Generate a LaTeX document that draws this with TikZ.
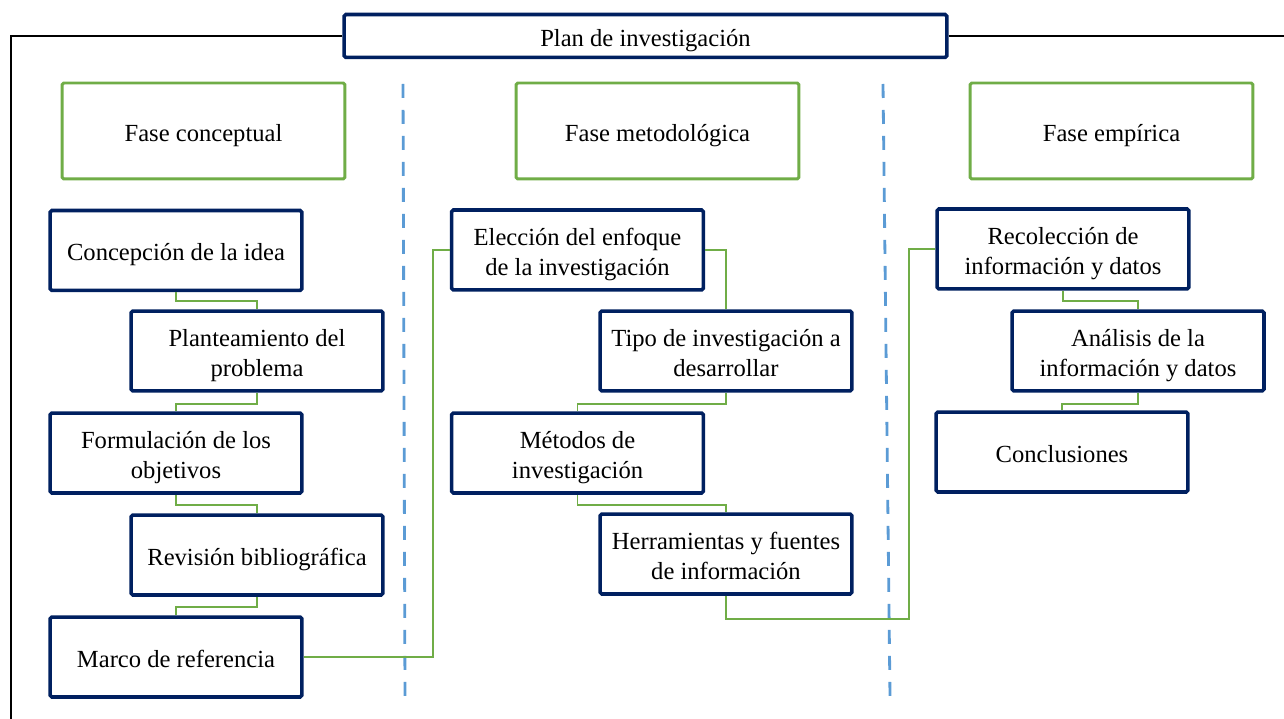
\documentclass[tikz,border=0pt]{standalone}
\usepackage{fontspec}
\setmainfont{Liberation Serif}
\definecolor{navy}{HTML}{002060}
\definecolor{leaf}{HTML}{70AD47}
\definecolor{sky}{HTML}{5B9BD5}
\newcommand{\lowtext}[1]{\raisebox{-2.5pt}[\height][\depth]{\begin{tabular}{@{}c@{}}#1\end{tabular}}}

\begin{document}
\begin{tikzpicture}[x=0.02cm,y=-0.02cm,
	every node/.style={font=\fontsize{14}{17}\selectfont,inner sep=0},
	stepbox/.style={draw=navy,line width=2pt,rounded corners=1pt,fill=white,minimum width=5.04cm,minimum height=1.6cm},
	phasebox/.style={draw=leaf,line width=1.7pt,rounded corners=1pt,minimum width=5.66cm,minimum height=1.92cm},
	titlebox/.style={draw=navy,line width=2pt,rounded corners=1pt,fill=white,minimum width=12.06cm,minimum height=0.86cm},
	link/.style={draw=leaf,line width=0.9pt},
	frame/.style={draw=black,line width=1.1pt},
	divider/.style={draw=sky,line width=1.6pt,dash pattern=on 0.28cm off 0.24cm}]
	\useasboundingbox (0,0) rectangle (1284,719);
	\node[titlebox] (title) at (645.5,36) {\lowtext{Plan de investigación}};
	\draw[frame] (title.west) -| (11,722);
	\draw[frame] (title.east) -- (1290,36);
	\node[phasebox] (fc) at (203.5,131) {\lowtext{Fase conceptual}};
	\node[phasebox] (fm) at (657.5,131) {\lowtext{Fase metodológica}};
	\node[phasebox] (fe) at (1111.5,131) {\lowtext{Fase empírica}};
	\draw[divider] (403,84) -- (405,697);
	\draw[divider] (883,84) -- (890,697);
	\node[stepbox] (c1) at (176,250.5) {\lowtext{Concepción de la idea}};
	\node[stepbox] (c2) at (257,351) {\lowtext{Planteamiento del\\problema}};
	\node[stepbox] (c3) at (176,453) {\lowtext{Formulación de los\\objetivos}};
	\node[stepbox] (c4) at (257,555) {\lowtext{Revisión bibliográfica}};
	\node[stepbox] (c5) at (176,657) {\lowtext{Marco de referencia}};
	\node[stepbox] (m1) at (577.5,250) {\lowtext{Elección del enfoque\\de la investigación}};
	\node[stepbox] (m2) at (726,351) {\lowtext{Tipo de investigación a\\desarrollar}};
	\node[stepbox] (m3) at (577.5,453) {\lowtext{Métodos de\\investigación}};
	\node[stepbox] (m4) at (726,554) {\lowtext{Herramientas y fuentes\\de información}};
	\node[stepbox] (e1) at (1063,249) {\lowtext{Recolección de\\información y datos}};
	\node[stepbox] (e2) at (1138,351) {\lowtext{Análisis de la\\información y datos}};
	\node[stepbox] (e3) at (1062,452) {\lowtext{Conclusiones}};
	\draw[link] (c1.south) -- ++(0,9) -| (c2.north);
	\draw[link] (c2.south) -- ++(0,11) -| (c3.north);
	\draw[link] (c3.south) -- ++(0,10) -| (c4.north);
	\draw[link] (c4.south) -- ++(0,10) -| (c5.north);
	\draw[link] (c5.east) -- ++(129,0) |- (m1.west);
	\draw[link] (m1.east) -| (m2.north);
	\draw[link] (m2.south) -- ++(0,11) -| (m3.north);
	\draw[link] (m3.south) -- ++(0,10) -| (m4.north);
	\draw[link] (m4.south) -- ++(0,23) -- ++(183,0) |- (e1.west);
	\draw[link] (e1.south) -- ++(0,10) -| (e2.north);
	\draw[link] (e2.south) -- ++(0,11) -| (e3.north);
\end{tikzpicture}
\end{document}
